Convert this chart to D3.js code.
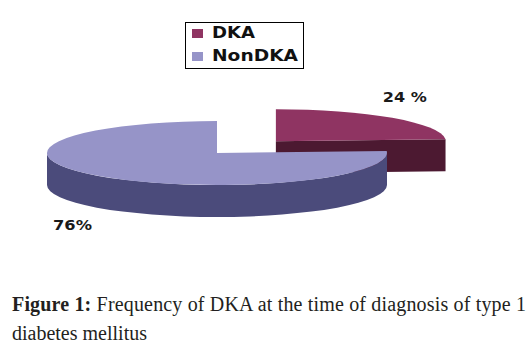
<!DOCTYPE html>
<html>
<head>
<meta charset="utf-8">
<script src="https://cdn.jsdelivr.net/npm/d3@7"></script>
<style>
  body { margin: 0; background: #fff; }
  svg { display: block; }
</style>
</head>
<body>
<div id="graph"></div>
<script>
// slices, clockwise from 12 o'clock
var categories = ['DKA', 'NonDKA']
var values = [24, 76]
var labels = ['24 %', '76%']
var captionLines = [
  ['Figure 1:', ' Frequency of DKA at the time of diagnosis of type 1'],
  ['', 'diabetes mellitus']
]

var topColors = ['#8f3462', '#9694c8']
var sideColors = ['#4c1931', '#4b4b7b']

var width = 530, height = 353
var cx = 217, cy = 153     // centre of the un-exploded pie
var rx = 170, ry = 32, depth = 32
var explode = [86, 0]
// label anchors, relative to each slice's own centre (left x, baseline y)
var labelOffset = [[107, -39], [-164, 77]]

var svg = d3.select('#graph').append('svg')
    .attr('width', width)
    .attr('height', height)

var color = d3.scaleOrdinal().domain(categories).range(topColors)
var side = d3.scaleOrdinal().domain(categories).range(sideColors)

var pie = d3.pie().sort(null).value(d => d.value)
var arcs = pie(categories.map((c, i) => ({name: c, value: values[i]})))

function pt(ox, oy, a){
  return [ox + rx*Math.sin(a), oy - ry*Math.cos(a)]
}

arcs.forEach((d, i) => {
  var mid = (d.startAngle + d.endAngle)/2
  d.ox = cx + explode[i]*Math.sin(mid)
  d.oy = cy - explode[i]*Math.cos(mid)*ry/rx
})

var topArc = d3.arc().innerRadius(0).outerRadius(rx)

var g = svg.append('g')

arcs.forEach((d, i) => {
  var name = d.data.name
  var a0 = d.startAngle, a1 = d.endAngle
  var sg = g.append('g')

  // radial walls that face the viewer
  ;[[a1, Math.sin(a1) > 0.001], [a0, Math.sin(a0) < -0.001]].forEach(([a, vis]) => {
    if (!vis) return
    var p = pt(d.ox, d.oy, a)
    sg.append('path')
      .attr('d', 'M' + [d.ox, d.oy] + 'L' + p + 'L' + [p[0], p[1] + depth] +
        'L' + [d.ox, d.oy + depth] + 'Z')
      .attr('fill', side(name))
  })

  // outer wall, front half only
  var s = Math.max(a0, Math.PI/2), e = Math.min(a1, Math.PI*3/2)
  if (e > s){
    var p0 = pt(d.ox, d.oy, s), p1 = pt(d.ox, d.oy, e)
    sg.append('path')
      .attr('d', 'M' + p0 + 'A' + rx + ',' + ry + ' 0 0 1 ' + p1 +
        'L' + [p1[0], p1[1] + depth] +
        'A' + rx + ',' + ry + ' 0 0 0 ' + [p0[0], p0[1] + depth] + 'Z')
      .attr('fill', side(name))
  }

  // top face: a circular arc squashed into the ellipse
  sg.append('path')
    .attr('d', topArc(d))
    .attr('transform', 'translate(' + d.ox + ',' + d.oy + ') scale(1,' + ry/rx + ')')
    .attr('fill', color(name))

  g.append('text')
    .attr('x', d.ox + labelOffset[i][0])
    .attr('y', d.oy + labelOffset[i][1])
    .text(labels[i])
})

g.selectAll('text')
  .attr('font-family', 'DejaVu Sans, Verdana, sans-serif')
  .attr('font-weight', 'bold')
  .attr('font-size', 14)
  .attr('fill', '#1a1a1a')
  .attr('textLength', (d, i) => [44, 39][i])
  .attr('lengthAdjust', 'spacingAndGlyphs')

// legend
var leg = svg.append('g').attr('transform', 'translate(185,22)')
leg.append('rect')
  .attr('x', 0.5).attr('y', 0.5)
  .attr('width', 118).attr('height', 46)
  .attr('fill', '#fff').attr('stroke', '#000')

var item = leg.selectAll('g.item').data(categories).join('g')
  .attr('class', 'item')
  .attr('transform', (d, i) => 'translate(0,' + (6 + i*23) + ')')

item.append('rect')
  .attr('x', 7).attr('y', 1)
  .attr('width', 11).attr('height', 9)
  .attr('fill', d => color(d))

item.append('text')
  .attr('x', 27).attr('y', 10)
  .attr('font-family', 'DejaVu Sans, Verdana, sans-serif')
  .attr('font-weight', 'bold')
  .attr('font-size', 15)
  .attr('fill', '#111')
  .attr('textLength', (d, i) => [43, 86][i])
  .attr('lengthAdjust', 'spacingAndGlyphs')
  .text(d => d)

// caption
var cap = svg.append('g')
cap.selectAll('text').data(captionLines).join('text')
  .attr('x', 12)
  .attr('y', (d, i) => 311 + i*29)
  .attr('font-family', 'Liberation Serif, Times New Roman, serif')
  .attr('font-size', 20)
  .attr('fill', '#231f20')
  .each(function(d, i){
    var t = d3.select(this)
    if (i == 0) t.attr('textLength', 514).attr('lengthAdjust', 'spacing')
    if (d[0]) t.append('tspan').attr('font-weight', 'bold').text(d[0])
    t.append('tspan').text(d[1])
  })
</script>
</body>
</html>
